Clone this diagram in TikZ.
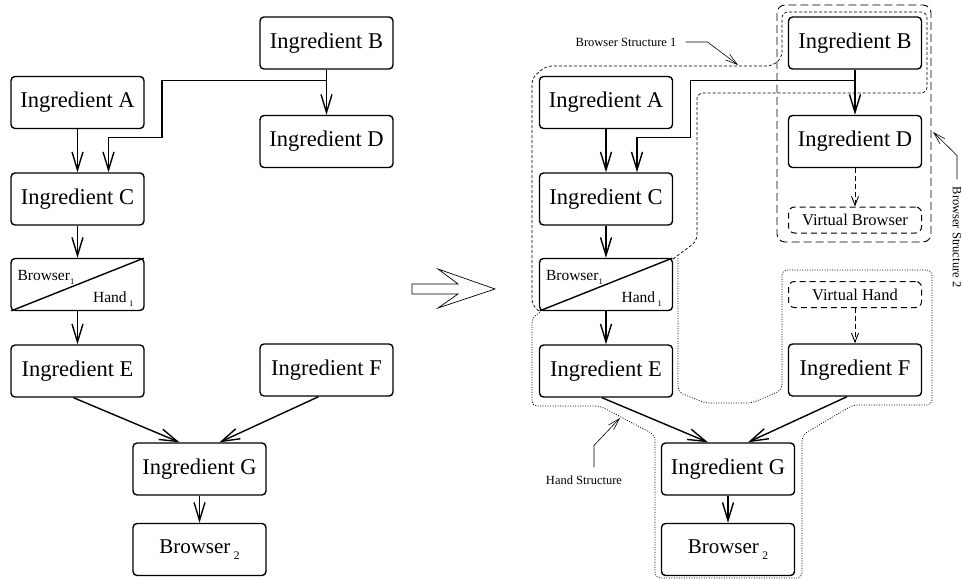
\documentclass[tikz,border=0pt]{standalone}
\usepackage{fontspec}
\setmainfont{Liberation Serif}
\usetikzlibrary{arrows.meta}
\newcommand{\lowsub}[1]{\raisebox{-.25em}{\scalebox{.55}{#1}}}

\begin{document}
\begin{tikzpicture}[x=1pt, y=-1pt, every node/.style={font=\fontsize{22.5}{26}\selectfont},
  ingr/.style={draw, rounded corners=4pt, line width=1.4pt, minimum width=133pt, minimum height=52pt, inner sep=0pt},
  virt/.style={draw, rounded corners=6pt, line width=1pt, dash pattern=on 6pt off 4pt, minimum width=133pt, minimum height=26pt, inner sep=0pt, font=\fontsize{16.5}{18}\selectfont},
  sub/.style={inner sep=0pt, font=\fontsize{15.5}{18}\selectfont},
  note/.style={inner sep=1pt, font=\fontsize{12.5}{14}\selectfont},
  flow/.style={line width=1.4pt, -{Straight Barb[length=18pt,width=11pt]}},
  vflow/.style={line width=0.9pt, dash pattern=on 5pt off 3pt, -{Straight Barb[length=9pt,width=7pt]}},
  ptr/.style={line width=0.6pt, -{Straight Barb[length=12pt,width=7pt]}},
  bsone/.style={line width=0.7pt, dash pattern=on 3pt off 2pt, rounded corners=6pt},
  bstwo/.style={line width=0.9pt, dash pattern=on 8pt off 4pt, rounded corners=8pt},
  hand/.style={line width=0.7pt, dash pattern=on 1pt off 1.5pt, rounded corners=5pt}]
  \useasboundingbox (0,0) rectangle (963,580);

  % the same flow twice: as it is, and split into structures
  \foreach \i/\dx in {1/0, 2/528.5} {
    \node[ingr] (b\i) at (326.5+\dx,43) {Ingredient B};
    \node[ingr] (a\i) at (77.5+\dx,102.5) {Ingredient A};
    \node[ingr] (d\i) at (326.5+\dx,141.5) {Ingredient D};
    \node[ingr] (c\i) at (77.5+\dx,199) {Ingredient C};
    \node[ingr] (bh\i) at (77.5+\dx,284.5) {};
    \node[ingr] (e\i) at (77.5+\dx,371) {Ingredient E};
    \node[ingr] (f\i) at (326.5+\dx,370) {Ingredient F};
    \node[ingr] (g\i) at (199.5+\dx,469) {Ingredient G};
    \node[ingr, font=\fontsize{21}{24}\selectfont] (brw\i) at (199.5+\dx,549.5) {Browser\,\lowsub{2}};
    \draw[line width=1.4pt, shorten <=1pt, shorten >=1pt] (bh\i.south west) -- (bh\i.north east);
    \node[sub, anchor=base west] (bhb\i) at ([xshift=7pt,yshift=-22.5pt]bh\i.north west) {Browser\lowsub{1}};
    \node[sub, anchor=base east] (bhh\i) at ([xshift=-11pt,yshift=9pt]bh\i.south east) {Hand\,\lowsub{1}};
    \draw[flow] (b\i) -- (d\i);
    \draw[flow] (b\i.south) ++(0,11) -| ++(-164.5,57) -| ([xshift=31pt]c\i.north);
    \draw[flow] (a\i) -- (c\i);
    \draw[flow] (c\i) -- (bh\i);
    \draw[flow] (bh\i) -- (e\i);
    \draw[flow] ([xshift=-4pt]e\i.south) -- ([xshift=-20pt]g\i.north);
    \draw[flow] ([xshift=-8pt]f\i.south) -- ([xshift=20pt]g\i.north);
    \draw[flow] (g\i) -- (brw\i);
  }

  % big arrow
  \draw[line width=0.7pt] (412,284) -- (458,284) -- (438,269) -- (495,289) -- (438,308) -- (458,294) -- (412,294) -- cycle;

  \node[virt] (vb) at (855,220) {Virtual Browser};
  \node[virt] (vh) at (855,294.5) {Virtual Hand};
  \draw[vflow] (d2) -- (vb);
  \draw[vflow] (vh) -- (f2);

  % structures
  \draw[bsone] (673,259) -- (697,241) -- (697,93) -- (927,93) -- (927,12) -- (782,12) -- (782,58) -- (772,66) -- (546,66) -- (532,78) -- (532,305) -- (539,311);
  \draw[bstwo] (777,5) rectangle (931,242);
  \draw[hand] (678,258) -- (678,392) -- (705,403) -- (752,403) -- (782,390) -- (782,270) -- (932,270) -- (932,405) -- (853,405) -- (802,435) -- (802,578) -- (655,578) -- (655,435) -- (600,406) -- (532,406) -- (532,318) -- (540,312);

  \node[note] (bs1) at (626,42) {Browser Structure 1};
  \coordinate (bs1tip) at (738,65);
  \draw[ptr] (bs1.east) ++(8,0) -- ++(22,0) -- (bs1tip);
  \node[note, rotate=-90] (bs2) at (957,237) {Browser Structure 2};
  \coordinate (bs2tip) at (933,132);
  \draw[ptr] (bs2.west) ++(0,-6) -- ++(0,-24) -- (bs2tip);
  \node[note] (hs) at (584,480) {Hand Structure};
  \coordinate (hstip) at (620,418);
  \draw[ptr] (hs.north) ++(10,-7) -- ++(0,-22) -- (hstip);
\end{tikzpicture}
\end{document}
